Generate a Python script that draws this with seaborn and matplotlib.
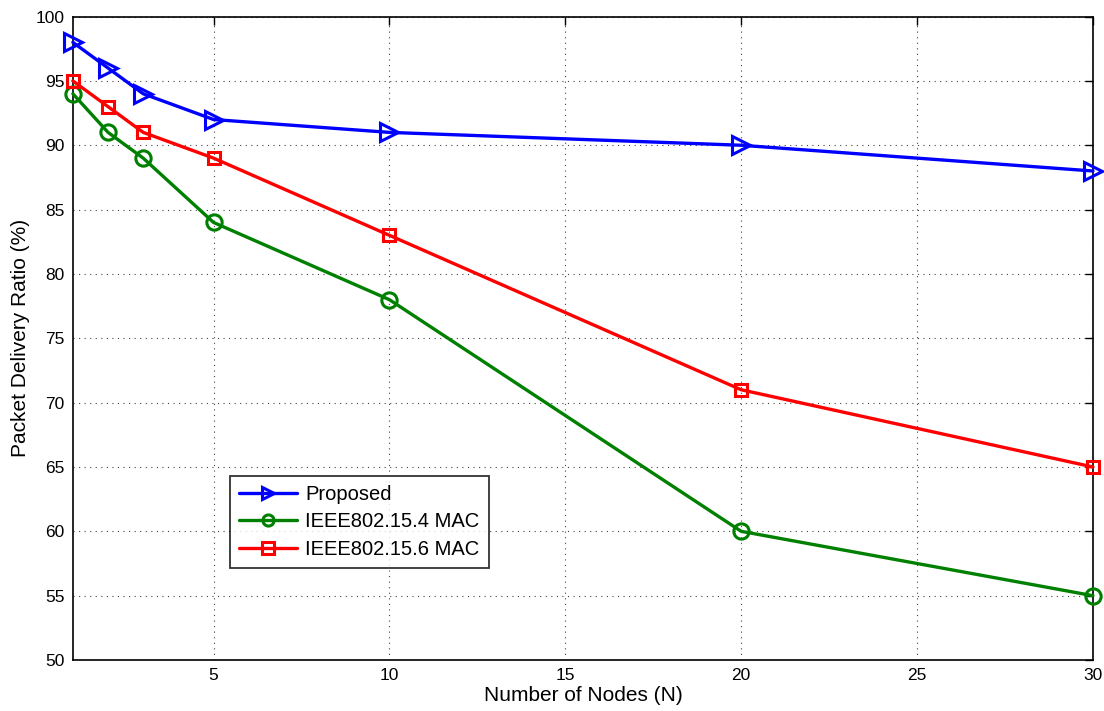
"""
Packet delivery ratio vs number of nodes
"""
import numpy as np
import pandas as pd
import matplotlib
matplotlib.use('Agg')
import matplotlib.pyplot as plt
import seaborn as sns

# Data
nodes = [1, 2, 3, 5, 10, 20, 30]
series_names = ['Proposed', 'IEEE802.15.4 MAC', 'IEEE802.15.6 MAC']
pdr_proposed = [98, 96, 94, 92, 91, 90, 88]
pdr_ieee154 = [94, 91, 89, 84, 78, 60, 55]
pdr_ieee156 = [95, 93, 91, 89, 83, 71, 65]

x_ticks = [5, 10, 15, 20, 25, 30]
y_ticks = [50, 55, 60, 65, 70, 75, 80, 85, 90, 95, 100]


def build_frame():
    """Long-form table for seaborn"""
    rows = []
    for name, vals in zip(series_names, [pdr_proposed, pdr_ieee154, pdr_ieee156]):
        for n, v in zip(nodes, vals):
            rows.append({'Nodes': n, 'PDR': v, 'Scheme': name})
    return pd.DataFrame(rows)


def main():
    sns.set_style('white')
    plt.rcParams['font.family'] = ['Liberation Sans', 'DejaVu Sans']
    plt.rcParams['text.color'] = 'black'
    plt.rcParams['axes.labelcolor'] = 'black'

    df = build_frame()
    palette = {'Proposed': '#0000ff', 'IEEE802.15.4 MAC': '#008000', 'IEEE802.15.6 MAC': '#ff0000'}
    markers = {'Proposed': '>', 'IEEE802.15.4 MAC': 'o', 'IEEE802.15.6 MAC': 's'}

    fig = plt.figure(figsize=(11.04, 7.11), dpi=100)
    ax = fig.add_axes([0.066, 0.0717, 0.924, 0.905])

    sns.lineplot(data=df, x='Nodes', y='PDR', hue='Scheme', style='Scheme',
                 palette=palette, markers=markers, dashes=False,
                 hue_order=series_names, style_order=series_names,
                 linewidth=2.4, markersize=11, ax=ax, legend=False)

    for line, name in zip(ax.lines, series_names):
        line.set_markerfacecolor('none')
        line.set_markeredgecolor(palette[name])
        line.set_markeredgewidth(2.2)
        line.set_clip_on(False)
        line.set_zorder(5)
        line.set_label(name)
        if name == 'Proposed':
            line.set_markersize(13)
        if name == 'IEEE802.15.6 MAC':
            line.set_markersize(8.5)

    ax.set_xlim(1, 30)
    ax.set_ylim(50, 100)
    ax.set_xticks(x_ticks)
    ax.set_yticks(y_ticks)
    ax.tick_params(direction='in', top=True, right=True, length=6, width=1,
                   labelsize=12.5, colors='black', pad=6)
    ax.grid(True, linestyle=(0, (1, 4)), color='#444444', linewidth=0.8)
    for sp in ax.spines.values():
        sp.set_color('black')
        sp.set_linewidth(1.2)

    ax.set_xlabel('Number of Nodes (N)', fontsize=15, labelpad=2)
    ax.set_ylabel('Packet Delivery Ratio (%)', fontsize=15, labelpad=4)

    leg = ax.legend(handles=ax.lines[:3], loc='lower left', bbox_to_anchor=(0.154, 0.143),
                    fontsize=14.5, frameon=True, fancybox=False, borderpad=0.45,
                    handlelength=2.9, handletextpad=0.4, labelspacing=0.42, borderaxespad=0)
    leg.get_frame().set_edgecolor('black')
    leg.get_frame().set_linewidth(1.3)
    for h in leg.legend_handles:
        h.set_markersize(8)
    leg.set_zorder(10)

    fig.savefig('out.png', dpi=100)
    plt.close(fig)


if __name__ == '__main__':
    main()
